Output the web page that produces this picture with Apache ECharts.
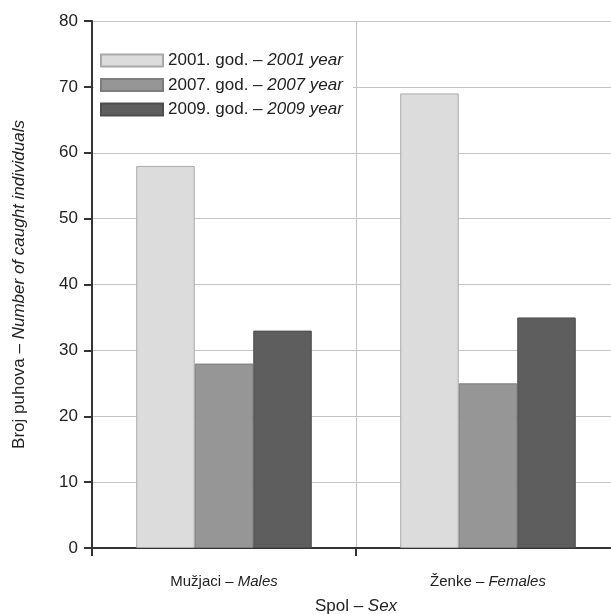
<!DOCTYPE html>
<html><head><meta charset="utf-8">
<script src="https://cdn.jsdelivr.net/npm/echarts@6/dist/echarts.min.js"></script>
<style>html,body{margin:0;padding:0;background:#fff}#c{width:611px;height:614px}</style>
</head><body><div id="c"></div>
<script>
var categories = [["Mužjaci", "Males"], ["Ženke", "Females"]];
var seriesNames = [["2001. god.", "2001 year"], ["2007. god.", "2007 year"], ["2009. god.", "2009 year"]];
var values2001 = [58, 69];
var values2007 = [28, 25];
var values2009 = [33, 35];
var yTicks = [0, 10, 20, 30, 40, 50, 60, 70, 80];

var FONT = "'Liberation Sans', Arial, sans-serif";
var fills = ['#dcdcdc', '#969696', '#5e5e5e'];
var borders = ['#a9a9a9', '#7e7e7e', '#4e4e4e'];
var allValues = [values2001, values2007, values2009];
var catKeys = categories.map(function (c) { return c[0] + ' – ' + c[1]; });
var serKeys = seriesNames.map(function (s) { return s[0] + ' – ' + s[1]; });
function rich(sz) {
  return {a: {fontFamily: FONT, fontSize: sz, color: '#222'}, b: {fontFamily: FONT, fontSize: sz, fontStyle: 'italic', color: '#222'}};
}

var chart = echarts.init(document.getElementById('c'), null, {renderer: 'canvas'});
chart.setOption({
  animation: false,
  backgroundColor: '#fff',
  grid: {left: 92, right: -9, top: 21, bottom: 66, containLabel: false, outerBoundsMode: 'none'},
  legend: {
    left: 94, top: 44, orient: 'vertical',
    backgroundColor: '#fff', padding: [8, 10, 8, 6],
    itemWidth: 62, itemHeight: 12, itemGap: 7.5, icon: 'rect',
    data: serKeys,
    formatter: function (n) {
      var i = serKeys.indexOf(n);
      return '{a|' + seriesNames[i][0] + ' – }{b|' + seriesNames[i][1] + '}';
    },
    textStyle: {fontFamily: FONT, fontSize: 17, color: '#222', rich: rich(17)}
  },
  xAxis: {
    type: 'category', data: catKeys,
    name: '{a|Spol – }{b|Sex}', nameLocation: 'middle', nameGap: 50,
    nameTextStyle: {rich: rich(17)},
    axisLine: {lineStyle: {color: '#333', width: 2}},
    axisTick: {show: true, length: 8, lineStyle: {color: '#333', width: 2}},
    splitLine: {show: true, lineStyle: {color: '#c4c4c4', width: 1}},
    axisLabel: {
      margin: 26,
      formatter: function (v) {
        var i = catKeys.indexOf(v);
        return '{a|' + categories[i][0] + ' – }{b|' + categories[i][1] + '}';
      },
      rich: rich(15)
    }
  },
  yAxis: {
    type: 'value', min: yTicks[0], max: yTicks[yTicks.length - 1], interval: yTicks[1] - yTicks[0],
    name: '{a|Broj puhova – }{b|Number of caught individuals}', nameLocation: 'middle', nameGap: 64, nameRotate: 90,
    nameTextStyle: {rich: rich(17)},
    axisLine: {show: true, lineStyle: {color: '#333', width: 2}},
    axisTick: {show: true, length: 8, lineStyle: {color: '#333', width: 2}},
    splitLine: {show: true, lineStyle: {color: '#c4c4c4', width: 1}},
    axisLabel: {margin: 14, fontFamily: FONT, fontSize: 17, color: '#222'}
  },
  series: serKeys.map(function (name, i) {
    return {
      name: name, type: 'bar', data: allValues[i],
      barGap: '0%', barCategoryGap: '33.5%',
      itemStyle: {color: fills[i], borderColor: borders[i], borderWidth: 1}
    };
  })
});
</script></body></html>
